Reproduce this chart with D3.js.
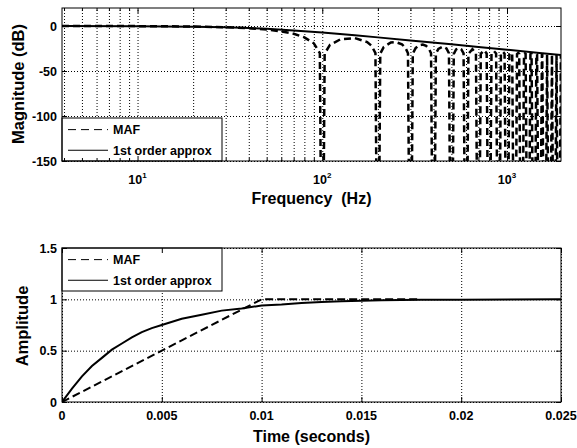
<!DOCTYPE html>
<html>
<head>
<meta charset="utf-8">
<script src="https://cdn.jsdelivr.net/npm/d3@7"></script>
<style>
body { margin: 0; background: #fff; }
text { font-family: "Liberation Sans", Arial, Helvetica, sans-serif; font-weight: bold; fill: #000; }
</style>
</head>
<body>
<svg id="chart" width="577" height="448"></svg>
<script>
// magnitude of the moving average filter, [frequency (Hz), dB]; -400 marks a null (off the axis)
const mafMag = [
    [3.9, 0], [10, -0.14], [20, -0.58], [30, -1.33], [40, -2.42], [50, -3.92], [60, -5.94],
    [70, -8.69], [80, -12.6], [90, -19.2], [97, -30.2], [100, -400],
    [103, -30.7], [110, -21.0], [125, -14.9], [150, -13.4], [175, -17.8], [185, -22.1], [194, -30.2], [200, -400],
    [206, -30.7], [215, -23.4], [235, -18.3], [250, -17.9], [270, -20.3], [282, -24.3], [291, -30.2], [300, -400],
    [309, -30.7], [320, -24.6], [335, -21.4], [350, -20.7], [365, -22.1], [378, -25.3], [388, -30.3], [400, -400],
    [412, -30.8], [425, -25.4], [450, -22.8], [470, -25.0], [485, -30.3], [500, -400],
    [515, -31.1], [530, -26.0], [550, -24.5], [565, -25.7], [582, -30.5], [600, -400],
    [618, -31.0], [650, -25.8], [679, -30.4], [700, -400],
    [721, -30.9], [750, -26.9], [776, -30.4], [800, -400],
    [824, -31.0], [850, -27.9], [873, -30.5], [900, -400],
    [927, -31.0], [950, -28.7], [970, -30.7], [1000, -400],
    [1030, -31.1], [1050, -29.4], [1067, -30.8], [1100, -400],
    [1133, -31.2], [1150, -29.9], [1164, -30.9], [1200, -400],
    [1236, -31.3], [1250, -30.4], [1261, -31.0], [1300, -400],
    [1339, -31.4], [1350, -30.9], [1358, -31.2], [1400, -400],
    [1442, -31.5], [1450, -31.2], [1455, -31.4], [1500, -400],
    [1545, -31.6], [1552, -31.5], [1600, -400],
    [1648, -31.7], [1700, -400],
    [1751, -31.9], [1800, -400],
    [1854, -32.0], [1900, -400],
    [1957, -32.1], [2000, -400]
];

// 1st order approximation magnitude, [frequency (Hz), dB]
const approxMag = [
    [3.9, -0.03], [10, -0.18], [20, -0.70], [30, -1.43], [40, -2.29], [50, -3.19], [70, -4.95],
    [100, -7.28], [150, -10.32], [200, -12.64], [300, -16.03], [500, -20.39], [700, -23.30],
    [1000, -26.38], [1500, -29.9], [2000, -32.4]
];

// step responses, [time (s), amplitude]
const mafStep = [[0, 0], [0.01, 1], [0.0178, 1]];
const approxStep = [
    [0, 0], [0.0005, 0.13], [0.001, 0.25], [0.0015, 0.35], [0.002, 0.43], [0.0025, 0.51],
    [0.003, 0.57], [0.0035, 0.63], [0.004, 0.68], [0.0045, 0.72], [0.005, 0.75], [0.006, 0.81],
    [0.007, 0.85], [0.008, 0.89], [0.009, 0.91], [0.01, 0.94], [0.011, 0.95], [0.012, 0.965],
    [0.013, 0.975], [0.014, 0.982], [0.015, 0.987], [0.016, 0.99], [0.018, 0.995], [0.02, 0.997],
    [0.025, 1.0]
];

const magTicks = [0, -50, -100, -150];
const freqMajorTicks = [10, 100, 1000];
const freqMinorTicks = [4, 5, 6, 7, 8, 9, 20, 30, 40, 50, 60, 70, 80, 90,
                        200, 300, 400, 500, 600, 700, 800, 900];
const timeTicks = [0, 0.005, 0.01, 0.015, 0.02, 0.025];
const timeTickLabels = ["0", "0.005", "0.01", "0.015", "0.02", "0.025"];
const ampTicks = [0, 0.5, 1, 1.5];
const ampTickLabels = ["0", "0.5", "1", "1.5"];
const legendLabels = ["MAF", "1st order approx"];

const svg = d3.select("#chart");
const left = 62, right = 561;

const top1 = 8, bottom1 = 161;
const top2 = 248, bottom2 = 402;

const x1 = d3.scaleLog().domain([3.9, 1960]).range([left, right]);
const y1 = d3.scaleLinear().domain([-150, 20]).range([bottom1, top1]);
const x2 = d3.scaleLinear().domain([0, 0.025]).range([left, right]);
const y2 = d3.scaleLinear().domain([0, 1.5]).range([bottom2, top2]);

const defs = svg.append("defs");
function clip(id, y0, y1_) {
    defs.append("clipPath").attr("id", id)
        .append("rect").attr("x", left).attr("y", y0)
        .attr("width", right - left).attr("height", y1_ - y0);
}
clip("clip1", top1, bottom1);
clip("clip2", top2, bottom2);

function styleGrid(g) {
    g.select(".domain").remove();
    g.selectAll("line")
        .attr("stroke", "#000")
        .attr("stroke-width", 1)
        .attr("stroke-dasharray", "1,2");
}

// draws the white box and dotted grid
function drawFrame(x, y, top, bottom, xTicks, yTicks, xMinor) {
    const h = bottom - top;
    const w = right - left;
    svg.append("rect").attr("x", left).attr("y", top)
        .attr("width", w).attr("height", h).attr("fill", "#fff");

    svg.append("g").attr("transform", "translate(0," + bottom + ")")
        .call(d3.axisBottom(x).tickValues(xTicks.concat(xMinor || [])).tickSize(-h).tickFormat(""))
        .call(styleGrid);
    svg.append("g").attr("transform", "translate(" + left + ",0)")
        .call(d3.axisLeft(y).tickValues(yTicks).tickSize(-w).tickFormat(""))
        .call(styleGrid);
}

// inward ticks on all four sides plus the outline
function drawTicks(x, y, top, bottom, xTicks, yTicks, xMinor) {
    const g = svg.append("g");
    const tickAxes = [
        [d3.axisBottom(x).tickValues(xTicks), "translate(0," + bottom + ")"],
        [d3.axisTop(x).tickValues(xTicks), "translate(0," + top + ")"],
        [d3.axisLeft(y).tickValues(yTicks), "translate(" + left + ",0)"],
        [d3.axisRight(y).tickValues(yTicks), "translate(" + right + ",0)"]
    ];
    tickAxes.forEach(([ax, tr]) => {
        g.append("g").attr("transform", tr)
            .call(ax.tickSize(-5).tickFormat(""))
            .call(s => s.select(".domain").remove())
            .selectAll("line").attr("stroke", "#000");
    });
    if (xMinor) {
        [[d3.axisBottom(x), bottom], [d3.axisTop(x), top]].forEach(([ax, yy]) => {
            g.append("g").attr("transform", "translate(0," + yy + ")")
                .call(ax.tickValues(xMinor).tickSize(-3).tickFormat(""))
                .call(s => s.select(".domain").remove())
                .selectAll("line").attr("stroke", "#000");
        });
    }
    svg.append("rect").attr("x", left).attr("y", top)
        .attr("width", right - left).attr("height", bottom - top)
        .attr("fill", "none").attr("stroke", "#000").attr("stroke-width", 1);
}

function drawLegend(top, bottom) {
    const lg = svg.append("g");
    lg.append("rect").attr("x", left).attr("y", top)
        .attr("width", 160).attr("height", bottom - top)
        .attr("fill", "#fff").attr("stroke", "#000").attr("stroke-width", 1);
    const rowY = [top + (bottom - top) * 0.27, top + (bottom - top) * 0.75];
    legendLabels.forEach((label, i) => {
        lg.append("line")
            .attr("x1", left + 6).attr("x2", left + 46)
            .attr("y1", rowY[i]).attr("y2", rowY[i])
            .attr("stroke", "#000").attr("stroke-width", 1)
            .attr("stroke-dasharray", i === 0 ? "8,5" : null);
        lg.append("text")
            .attr("x", left + 51).attr("y", rowY[i] + 4.5)
            .style("font-size", "12.5px")
            .text(label);
    });
}

// ---------- top: magnitude ----------
drawFrame(x1, y1, top1, bottom1, freqMajorTicks, magTicks, freqMinorTicks);

const magLine = d3.line().x(d => x1(d[0])).y(d => y1(d[1]));
const mag = svg.append("g").attr("clip-path", "url(#clip1)");
mag.append("path").datum(approxMag)
    .attr("d", magLine).attr("fill", "none")
    .attr("stroke", "#000").attr("stroke-width", 2);
mag.append("path").datum(mafMag)
    .attr("d", magLine).attr("fill", "none")
    .attr("stroke", "#000").attr("stroke-width", 2.5)
    .attr("stroke-dasharray", "7,4");

drawLegend(118, bottom1);
drawTicks(x1, y1, top1, bottom1, freqMajorTicks, magTicks, freqMinorTicks);

// tick labels
svg.append("g").selectAll("text").data(magTicks).join("text")
    .attr("x", left - 5).attr("y", d => y1(d) + 4.5)
    .attr("text-anchor", "end").style("font-size", "12.5px")
    .text(d => d);
const decLabels = svg.append("g").selectAll("text").data(freqMajorTicks).join("text")
    .attr("x", d => x1(d)).attr("y", 184)
    .attr("text-anchor", "middle").style("font-size", "12.5px");
decLabels.append("tspan").text("10");
decLabels.append("tspan").attr("dy", -6).style("font-size", "8px")
    .text(d => Math.round(Math.log10(d)));

svg.append("text").attr("x", (left + right) / 2).attr("y", 204)
    .attr("text-anchor", "middle").style("font-size", "16px")
    .style("white-space", "pre").text("Frequency  (Hz)");
svg.append("text").attr("transform", "translate(24," + 84 + ") rotate(-90)")
    .attr("text-anchor", "middle").style("font-size", "16.5px")
    .text("Magnitude (dB)");

// ---------- bottom: step response ----------
drawFrame(x2, y2, top2, bottom2, timeTicks, ampTicks, null);

const stepLine = d3.line().x(d => x2(d[0])).y(d => y2(d[1]));
const step = svg.append("g").attr("clip-path", "url(#clip2)");
step.append("path").datum(approxStep)
    .attr("d", stepLine).attr("fill", "none")
    .attr("stroke", "#000").attr("stroke-width", 2);
step.append("path").datum(mafStep)
    .attr("d", stepLine).attr("fill", "none")
    .attr("stroke", "#000").attr("stroke-width", 2)
    .attr("stroke-dasharray", "8,4");

drawLegend(top2, 291);
drawTicks(x2, y2, top2, bottom2, timeTicks, ampTicks, null);

svg.append("g").selectAll("text").data(ampTicks).join("text")
    .attr("x", left - 5).attr("y", d => y2(d) + 4.5)
    .attr("text-anchor", "end").style("font-size", "12.5px")
    .text((d, i) => ampTickLabels[i]);
svg.append("g").selectAll("text").data(timeTicks).join("text")
    .attr("x", d => x2(d)).attr("y", 420)
    .attr("text-anchor", "middle").style("font-size", "12.5px")
    .text((d, i) => timeTickLabels[i]);

svg.append("text").attr("x", (left + right) / 2).attr("y", 442)
    .attr("text-anchor", "middle").style("font-size", "16px")
    .text("Time (seconds)");
svg.append("text").attr("transform", "translate(28," + 326 + ") rotate(-90)")
    .attr("text-anchor", "middle").style("font-size", "16.5px")
    .text("Amplitude");
</script>
</body>
</html>
